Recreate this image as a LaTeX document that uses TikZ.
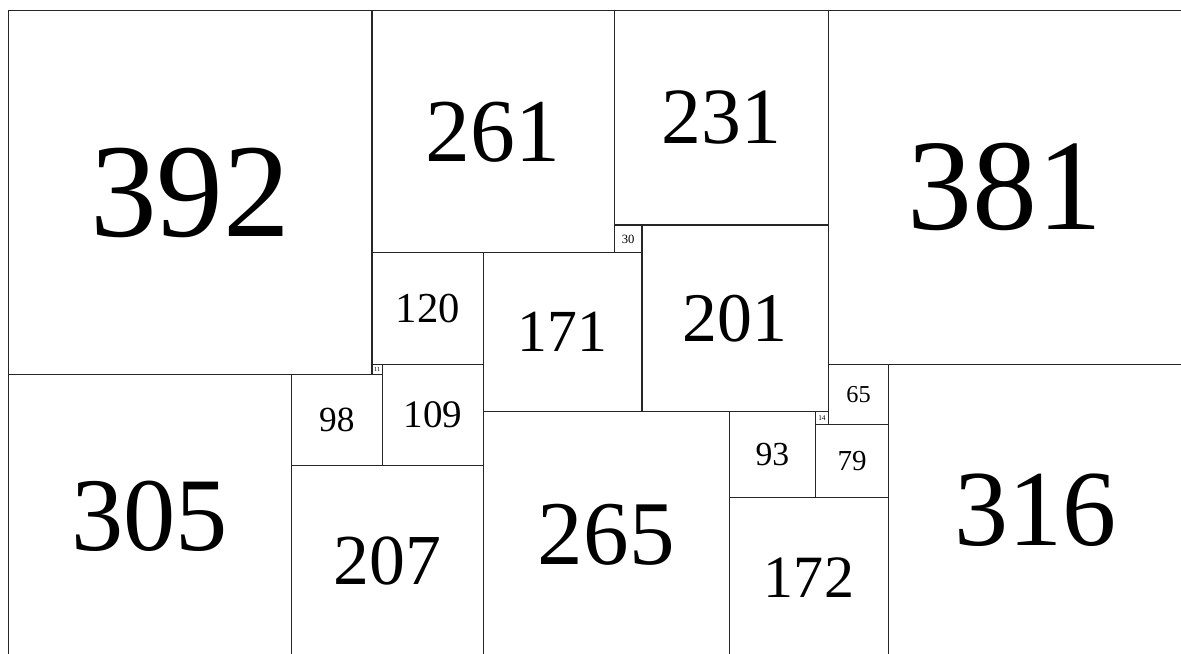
\documentclass[tikz,border=0pt]{standalone}
\usepackage{fontspec}
\setmainfont{Liberation Serif}
\usepackage{tikz}
\usetikzlibrary{positioning}

% label size grows with the side of the square
\newcommand{\sqfont}[1]{\pgfmathsetmacro\sqsize{0.18*#1+1.4}\fontsize{\sqsize pt}{\sqsize pt}\selectfont}

\begin{document}
\begin{tikzpicture}[
  sq/.style={rectangle, draw=black!85, line width=0.6pt, inner sep=0pt, outer sep=0pt, anchor=north west, minimum size=#1*0.5pt, font=\sqfont{#1}},
]
\useasboundingbox (-4.5pt,5.75pt) rectangle (632pt,-346.3pt);

% Top row
\node[sq=392] (q392) at (0,0) {392};
\node[sq=261] (q261) at (q392.north east) {261};
\node[sq=231] (q231) at (q261.north east) {231};
\node[sq=381] (q381) at (q231.north east) {381};

% Middle band
\node[sq=30] (q30) at (q231.south west) {30};
\node[sq=201] (q201) at (q30.north east) {201};
\node[sq=120] (q120) at (q261.south west) {120};
\node[sq=171] (q171) at (q120.north east) {171};
\node[sq=11] (q11) at (q120.south west) {11};
\node[sq=109] (q109) at (q11.north east) {109};
\node[sq=98, anchor=north east] (q98) at (q11.south east) {98};
\node[sq=65] (q65) at (q381.south west) {65};
\node[sq=14, anchor=north east] (q14) at (q201.south east) {14};
\node[sq=93, anchor=north east] (q93) at (q14.north west) {93};
\node[sq=79] (q79) at (q14.south west) {79};

% Bottom row
\node[sq=305] (q305) at (q392.south west) {305};
\node[sq=207] (q207) at (q98.south west) {207};
\node[sq=265] (q265) at (q171.south west) {265};
\node[sq=172] (q172) at (q93.south west) {172};
\node[sq=316, anchor=north east] (q316) at (q381.south east) {316};
\end{tikzpicture}
\end{document}
